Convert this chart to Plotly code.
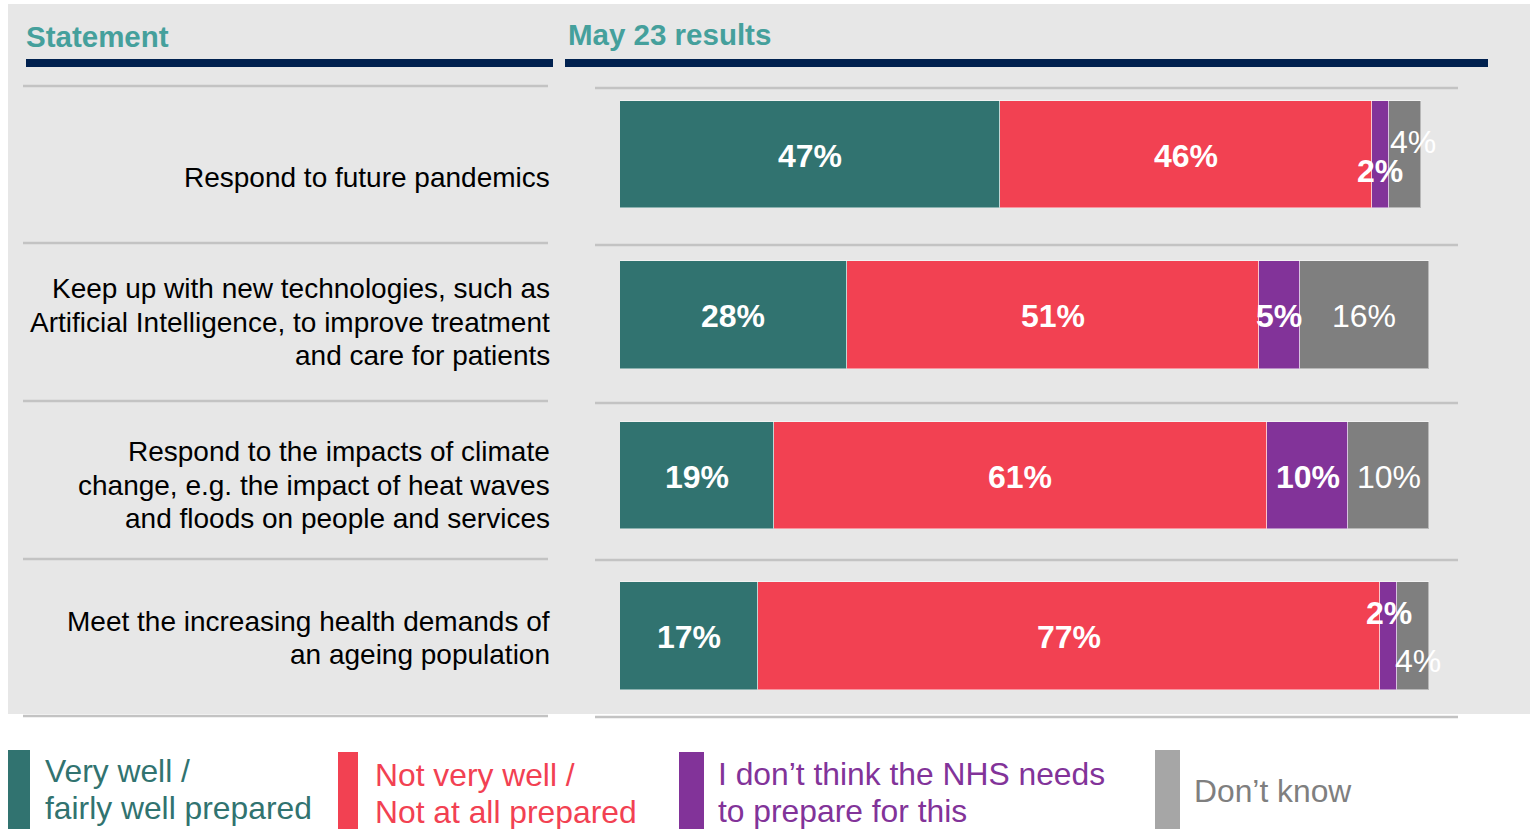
import plotly.graph_objects as go

# ---- data ----
statements = [
    "Respond to future pandemics",
    "Keep up with new technologies, such as<br>Artificial Intelligence, to improve treatment<br>and care for patients",
    "Respond to the impacts of climate<br>change, e.g. the impact of heat waves<br>and floods on people and services",
    "Meet the increasing health demands of<br>an ageing population",
]
series_names = [
    "Very well /<br>fairly well prepared",
    "Not very well /<br>Not at all prepared",
    "I don’t think the NHS needs<br>to prepare for this",
    "Don’t know",
]
very_well = [47, 28, 19, 17]
not_well = [46, 51, 61, 77]
no_need = [2, 5, 10, 2]
dont_know = [4, 16, 10, 4]

series_values = [very_well, not_well, no_need, dont_know]

# ---- styling ----
W, H = 1537, 829
BAR_COLORS = ["#317370", "#f24152", "#823399", "#7f7f7f"]
LEGEND_SWATCH = ["#317370", "#f24152", "#823399", "#a6a6a6"]
LEGEND_TEXT = ["#317370", "#f24152", "#823399", "#7f7f7f"]
LABEL_BOLD = [True, True, True, False]
TITLE_COLOR = "#45a09c"
NAVY = "#00214f"
RULE = "#c3c3c3"
FONT = "Liberation Sans, Arial, sans-serif"


def px(x):
    return x / W


def py(y):
    return 1 - y / H


rows = list(range(len(statements)))
fig = go.Figure()

for name, vals, col in zip(series_names, series_values, BAR_COLORS):
    fig.add_trace(go.Bar(
        y=rows, x=vals, orientation="h", name=name.replace("<br>", " "),
        marker=dict(color=col, line=dict(color="rgba(255,255,255,0.45)", width=1)),
        width=0.667, hoverinfo="skip", showlegend=False,
    ))

shapes = []
annotations = []

# background panel
shapes.append(dict(type="rect", xref="paper", yref="paper", layer="below",
                   x0=px(8), x1=px(1530), y0=py(714), y1=py(4),
                   fillcolor="#e7e7e7", line=dict(width=0)))

# header rules
for x0, x1 in [(26, 553), (565, 1488)]:
    shapes.append(dict(type="rect", xref="paper", yref="paper", layer="below",
                       x0=px(x0), x1=px(x1), y0=py(67), y1=py(59),
                       fillcolor=NAVY, line=dict(width=0)))

# row separators
for y in [86, 243, 401, 559, 716]:
    shapes.append(dict(type="line", xref="paper", yref="paper", layer="below",
                       x0=px(23), x1=px(548), y0=py(y), y1=py(y),
                       line=dict(color=RULE, width=2.5)))
for y in [88, 245, 403, 560, 717]:
    shapes.append(dict(type="line", xref="paper", yref="paper", layer="below",
                       x0=px(595), x1=px(1458), y0=py(y), y1=py(y),
                       line=dict(color=RULE, width=2.5)))

# column headers
for text, x, y in [("Statement", 24, 37), ("May 23 results", 566, 34)]:
    annotations.append(dict(text=text, xref="paper", yref="paper", x=px(x), y=py(y),
                            xanchor="left", yanchor="middle", showarrow=False,
                            font=dict(family=FONT, size=29.5, color=TITLE_COLOR, weight="bold")))

# statement labels, one annotation per line
label_centers = [177, 322, 485, 638]
line_gap = 33.5
for text, cy in zip(statements, label_centers):
    lines = text.split("<br>")
    n = len(lines)
    for k, line in enumerate(lines):
        yy = cy + (k - (n - 1) / 2) * line_gap
        annotations.append(dict(text=line, xref="paper", yref="paper", x=px(551.5), y=py(yy),
                                xanchor="right", yanchor="middle", showarrow=False,
                                font=dict(family=FONT, size=28, color="#000000")))

# value labels on segments; small segments get nudged off the bar centre
nudges = {(0, 2): (0, -15), (0, 3): (8, 14), (3, 2): (0, 24), (3, 3): (5, -24)}
for i in rows:
    start = 0
    for s, vals in enumerate(series_values):
        v = vals[i]
        dx, dy = nudges.get((i, s), (0, 0))
        annotations.append(dict(text=f"{v}%", x=start + v / 2, y=i, xref="x", yref="y",
                                xshift=dx, yshift=dy - 1, showarrow=False,
                                xanchor="center", yanchor="middle",
                                font=dict(family=FONT, size=32, color="white",
                                          weight="bold" if LABEL_BOLD[s] else "normal")))
        start += v

# legend
legend_swatches = [(8, 30, 750), (338, 358, 752), (679, 704, 752), (1155, 1180, 750)]
legend_text_pos = [(43, 789.5), (373, 793.5), (716, 792), (1192, 791)]
legend_gap = 37
for name, (x0, x1, y0), (tx, tcy), sc, tc in zip(series_names, legend_swatches,
                                                   legend_text_pos, LEGEND_SWATCH, LEGEND_TEXT):
    shapes.append(dict(type="rect", xref="paper", yref="paper",
                       x0=px(x0), x1=px(x1), y0=py(H), y1=py(y0),
                       fillcolor=sc, line=dict(width=0)))
    lines = name.split("<br>")
    n = len(lines)
    for k, line in enumerate(lines):
        yy = tcy + (k - (n - 1) / 2) * legend_gap
        annotations.append(dict(text=line, xref="paper", yref="paper", x=px(tx), y=py(yy),
                                xanchor="left", yanchor="middle", showarrow=False,
                                font=dict(family=FONT, size=31.8, color=tc)))

# axis placement: bars start at x=620 px and 100% spans 809 px
row_top, row_step = 154.5, 160.5
fig.update_layout(
    width=W, height=H, margin=dict(l=0, r=0, t=0, b=0),
    paper_bgcolor="white", plot_bgcolor="rgba(0,0,0,0)",
    barmode="stack", bargap=0,
    xaxis=dict(domain=[px(620), px(1429)], range=[0, 100], visible=False, fixedrange=True),
    yaxis=dict(domain=[0, 1], range=[(H - row_top) / row_step, -row_top / row_step],
               visible=False, fixedrange=True),
    shapes=shapes, annotations=annotations,
)

fig.write_html("out.html")
